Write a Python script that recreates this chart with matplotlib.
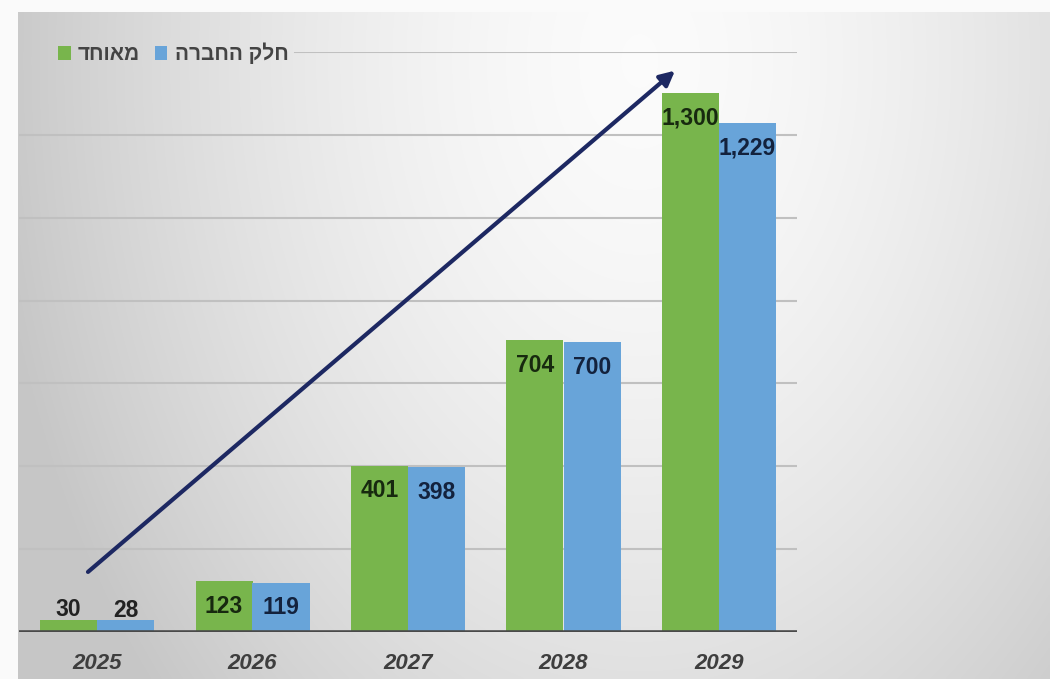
import numpy as np
import matplotlib
matplotlib.use("Agg")
import matplotlib.pyplot as plt

years = ["2025", "2026", "2027", "2028", "2029"]
consolidated = [30, 123, 401, 704, 1300]
company_share = [28, 119, 398, 700, 1229]
series_names = ["מאוחד", "חלק החברה"]

green = "#78b54c"
blue = "#68a4d9"
green_txt = "#17290f"
blue_txt = "#13223d"

plt.rcParams['font.family'] = ['Liberation Sans', 'DejaVu Sans']

W, H = 1050, 679
fig = plt.figure(figsize=(W / 100, H / 100), dpi=100)
fig.patch.set_facecolor("#fafafa")

# background gradient
bg = fig.add_axes([18 / W, 0, 1 - 18 / W, (H - 12) / H], zorder=0)
bx = np.linspace(18, W, 400)
by = np.linspace(12, H, 300)
X, Y = np.meshgrid(bx, by)
r = np.sqrt(((X - 640) / 620) ** 2 + ((Y - 60) / 900) ** 2)
val = np.clip(0.985 - 0.19 * r ** 1.6, 0.78, 1.0)
bg.imshow(np.dstack([val, val, val]), aspect="auto", extent=[0, 1, 0, 1],
          interpolation="bilinear")
bg.axis("off")

ax = fig.add_axes([19.25 / W, 47 / H, (796.75 - 19.25) / W, 580 / H], zorder=1)
ax.patch.set_alpha(0)

x = np.arange(len(years))
bw = 57 / 155.5
ax.set_xlim(-0.5, len(years) - 0.5)
ax.set_ylim(0, 1400)

for g in range(200, 1401, 200):
    xmin = 0.355 if g == 1400 else 0.0
    ax.axhline(g, xmin=xmin, color="#c0c0c0", lw=1.5, zorder=1)

b1 = ax.bar(x - bw / 2, consolidated, bw, color=green, zorder=2, label=series_names[0])
b2 = ax.bar(x + bw / 2, company_share, bw, color=blue, zorder=2, label=series_names[1])

for bars, vals, col in ((b1, consolidated, green_txt), (b2, company_share, blue_txt)):
    for rect, v in zip(bars, vals):
        cx = rect.get_x() + rect.get_width() / 2
        if v > 100:
            ax.annotate(f"{v:,}", (cx, v), xytext=(0, -18), textcoords="offset points",
                        ha="center", va="center", fontsize=16.5, fontweight="bold",
                        color=col, zorder=4)
        else:
            ax.annotate(f"{v:,}", (cx, v), xytext=(0, 7), textcoords="offset points",
                        ha="center", va="center", fontsize=16.5, fontweight="bold",
                        color="#222222", zorder=4)

ax.axhline(0, color="#4a4a4a", lw=2.6, zorder=3)

ax.set_xticks(x)
ax.set_xticklabels(years, fontsize=16, fontweight="bold", fontstyle="italic", color="#3e3e3e")
ax.tick_params(axis="x", length=0, pad=15)
ax.set_yticks([])
for s in ax.spines.values():
    s.set_visible(False)

# trend arrow
ax.annotate("", xy=(3.717, 1355), xytext=(-0.058, 145),
            arrowprops=dict(arrowstyle="-|>", color="#1d2862", lw=3,
                            mutation_scale=22, shrinkA=0, shrinkB=0), zorder=5)

# legend (Hebrew displayed in visual order)
leg = ax.legend([b1, b2], [s[::-1] for s in series_names], loc="upper left",
                bbox_to_anchor=(0.026, 1.048), ncol=2, frameon=False,
                prop={"size": 15, "weight": "bold"},
                handlelength=0.6, handleheight=0.6, handletextpad=0.35,
                columnspacing=0.7, labelcolor="#444444")

fig.savefig("out.png", dpi=100)
